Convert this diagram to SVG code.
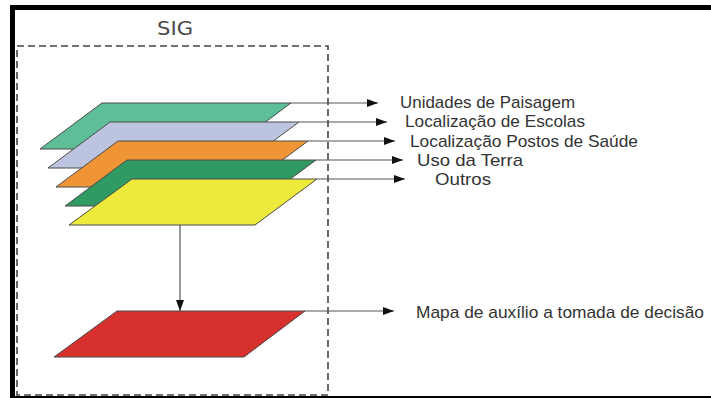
<svg xmlns="http://www.w3.org/2000/svg" width="711" height="398" viewBox="0 0 711 398">
  <style>
    .layer { stroke: #4a4a4a; stroke-width: 1; stroke-linejoin: miter; }
    .conn { stroke: #555; stroke-width: 1.2; fill: none; }
    .lbl { font-family: "Liberation Sans", "DejaVu Sans", sans-serif; font-size: 17px; fill: #333; }
    .title { font-family: "DejaVu Sans", "Liberation Sans", sans-serif; font-size: 20px; fill: #4a4a4a; }
    .frame { fill: #000; }
    .sig { fill: none; stroke: #444; stroke-width: 1.6; stroke-dasharray: 7 4; }
  </style>
  <defs>
    <marker id="arr" markerUnits="userSpaceOnUse" markerWidth="12" markerHeight="8" refX="11" refY="4" orient="auto">
      <path d="M0,0 L11,4 L0,8 Z" fill="#111"/>
    </marker>
  </defs>
  <rect width="711" height="398" fill="#fff"/>
  <g id="frame">
    <rect class="frame" x="10" y="5" width="701" height="5"/>
    <rect class="frame" x="10" y="5" width="5" height="393"/>
    <rect class="frame" x="10" y="396" width="701" height="2"/>
  </g>
  <g id="sig-box">
    <rect class="sig" x="17" y="46" width="311" height="349"/>
    <text class="title" x="157" y="35" textLength="36" lengthAdjust="spacingAndGlyphs">SIG</text>
  </g>
  <g id="connectors">
    <line class="conn" x1="291" y1="103" x2="378" y2="103" marker-end="url(#arr)"/>
    <line class="conn" x1="299" y1="122" x2="387" y2="122" marker-end="url(#arr)"/>
    <line class="conn" x1="308" y1="141" x2="395" y2="141" marker-end="url(#arr)"/>
    <line class="conn" x1="316" y1="160" x2="403" y2="160" marker-end="url(#arr)"/>
    <line class="conn" x1="317" y1="179" x2="405" y2="179" marker-end="url(#arr)"/>
    <line class="conn" x1="180" y1="225" x2="180" y2="311" marker-end="url(#arr)"/>
    <line class="conn" x1="305" y1="311" x2="394" y2="311" marker-end="url(#arr)"/>
  </g>
  <g id="layer-unidades">
    <polygon class="layer" fill="#5dbe97" points="102,103 291,103 229,149 40,149"/>
  </g>
  <g id="layer-escolas">
    <polygon class="layer" fill="#bcc4df" points="110,122 299,122 237,168 48,168"/>
  </g>
  <g id="layer-saude">
    <polygon class="layer" fill="#ef9535" points="118,141 308,141 246,187 56,187"/>
  </g>
  <g id="layer-uso">
    <polygon class="layer" fill="#2f9a62" points="127,160 316,160 254,206 65,206"/>
  </g>
  <g id="layer-outros">
    <polygon class="layer" fill="#eeea3c" points="132,179 317,179 255,225 69,225"/>
  </g>
  <g id="layer-mapa">
    <polygon class="layer" fill="#d8302d" points="117,311 305,311 244,357 54,357"/>
  </g>
  <g id="label-unidades"><text class="lbl" x="400" y="108" textLength="175" lengthAdjust="spacingAndGlyphs">Unidades de Paisagem</text></g>
  <g id="label-escolas"><text class="lbl" x="405" y="127" textLength="180" lengthAdjust="spacingAndGlyphs">Localização de Escolas</text></g>
  <g id="label-saude"><text class="lbl" x="410" y="147" textLength="228" lengthAdjust="spacingAndGlyphs">Localização Postos de Saúde</text></g>
  <g id="label-uso"><text class="lbl" x="417" y="166" textLength="106" lengthAdjust="spacingAndGlyphs">Uso da Terra</text></g>
  <g id="label-outros"><text class="lbl" x="435" y="185" textLength="56" lengthAdjust="spacingAndGlyphs">Outros</text></g>
  <g id="label-mapa"><text class="lbl" x="416" y="318" textLength="288" lengthAdjust="spacingAndGlyphs">Mapa de auxílio a tomada de decisão</text></g>
</svg>
